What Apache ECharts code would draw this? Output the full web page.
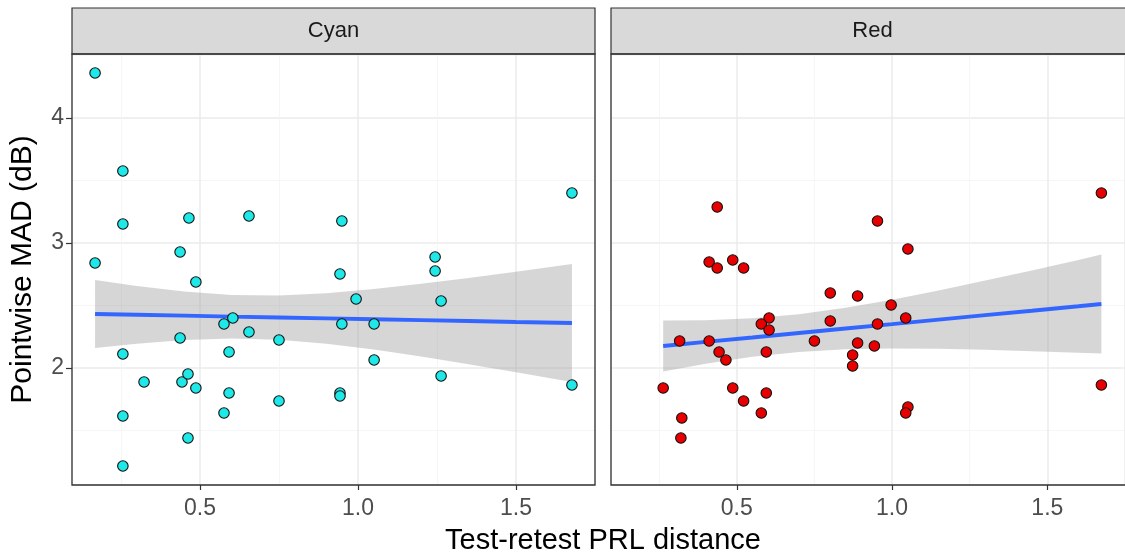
<!DOCTYPE html>
<html>
<head>
<meta charset="utf-8">
<script src="https://cdn.jsdelivr.net/npm/echarts@6/dist/echarts.min.js"></script>
<style>
html,body{margin:0;padding:0;background:#fff;}
#chart{width:1125px;height:559px;}
</style>
</head>
<body>
<div id="chart"></div>
<script>
// ---- data ----
const panels = ["Cyan", "Red"];
const cyanX = [0.168,0.256,0.168,0.256,0.465,0.655,0.949,0.437,0.487,0.943,0.994,0.604,0.576,0.655,0.437,0.75,0.949,1.051,0.256,0.592,1.051,0.323,0.443,0.462,0.487,0.592,0.75,0.943,0.943,0.256,0.576,0.462,0.256,1.244,1.244,1.263,1.263,1.677,1.677];
const cyanY = [4.36,3.576,2.84,3.152,3.2,3.216,3.176,2.928,2.688,2.752,2.552,2.4,2.352,2.288,2.24,2.224,2.352,2.352,2.112,2.128,2.064,1.888,1.888,1.952,1.84,1.8,1.736,1.8,1.776,1.616,1.64,1.44,1.216,2.888,2.776,2.536,1.936,1.864,3.4];
const redX = [0.437,0.411,0.437,0.487,0.522,0.604,0.579,0.604,0.316,0.411,0.443,0.465,0.595,0.263,0.487,0.595,0.522,0.579,0.323,0.32,0.953,1.051,0.801,0.889,0.997,0.801,0.953,1.044,0.75,0.889,0.943,0.873,0.873,1.674,1.674,1.051,1.044];
const redY = [3.288,2.848,2.8,2.864,2.8,2.4,2.352,2.304,2.216,2.216,2.128,2.064,2.128,1.84,1.84,1.8,1.736,1.64,1.6,1.44,3.176,2.952,2.6,2.576,2.504,2.376,2.352,2.4,2.216,2.2,2.176,2.104,2.016,1.864,3.4,1.688,1.64];

// fitted line and confidence band
const cyanFitX = [0.168,0.3,0.45,0.6,0.75,0.9,1.05,1.2,1.35,1.5,1.677];
const cyanFitY = [2.432,2.426,2.419,2.411,2.404,2.397,2.390,2.383,2.376,2.368,2.360];
const cyanUpper = [2.704,2.657,2.613,2.585,2.581,2.599,2.632,2.674,2.721,2.770,2.832];
const cyanLower = [2.160,2.195,2.225,2.237,2.227,2.195,2.149,2.092,2.031,1.966,1.888];

const redFitX = [0.263,0.4,0.55,0.7,0.85,1.0,1.15,1.3,1.45,1.6,1.674];
const redFitY = [2.176,2.209,2.244,2.280,2.316,2.351,2.387,2.423,2.458,2.494,2.512];
const redUpper = [2.380,2.383,2.398,2.431,2.482,2.546,2.620,2.700,2.781,2.865,2.908];
const redLower = [1.972,2.035,2.090,2.129,2.150,2.156,2.154,2.146,2.135,2.123,2.116];

const xTickLabels = ["0.5", "1.0", "1.5"];
const yTickLabels = ["2", "3", "4"];
const xTitle = "Test-retest PRL distance";
const yTitle = "Pointwise MAD (dB)";

// ---- chart ----
const FONT = "Liberation Sans, Arial, sans-serif";
const zip = (a, b) => a.map((v, i) => [v, b[i]]);

const panelDefs = [
  {x: cyanX, y: cyanY, fx: cyanFitX, fy: cyanFitY, up: cyanUpper, lo: cyanLower, fill: "#1EE8E8"},
  {x: redX, y: redY, fx: redFitX, fy: redFitY, up: redUpper, lo: redLower, fill: "#E80000"}
];

const gridTop = 54, gridH = 431, gridW = 523;
const gridLefts = [72, 611];

const grids = gridLefts.map(l => ({
  left: l, top: gridTop, width: gridW, height: gridH,
  show: true, borderColor: "#333333", borderWidth: 0, backgroundColor: "#fff"
}));

const xAxes = gridLefts.map((l, i) => ({
  type: "value", gridIndex: i, min: 0.095, max: 1.75, splitNumber: 3,
  axisLine: {show: false},
  axisTick: {show: true, length: 5, lineStyle: {color: "#333333", width: 1.2}},
  axisLabel: {
    show: true, color: "#4D4D4D", fontSize: 23, fontFamily: FONT, margin: 12,
    showMinLabel: false, showMaxLabel: false,
    formatter: v => { const s = v.toFixed(1); return xTickLabels.indexOf(s) >= 0 && Math.abs(v*2 - Math.round(v*2)) < 1e-6 ? s : ""; }
  },
  splitLine: {show: true, lineStyle: {color: "#EBEBEB", width: 1.5}},
  minorTick: {show: false, splitNumber: 2},
  minorSplitLine: {show: true, lineStyle: {color: "#F4F4F4", width: 0.8}}
}));

const yAxes = gridLefts.map((l, i) => ({
  type: "value", gridIndex: i, min: 1.064, max: 4.512, splitNumber: 3,
  axisLine: {show: false},
  axisTick: {show: i === 0, length: 6, lineStyle: {color: "#333333", width: 1.2}},
  axisLabel: {
    show: i === 0, color: "#4D4D4D", fontSize: 23, fontFamily: FONT, margin: 8,
    showMinLabel: false, showMaxLabel: false,
    formatter: v => { const s = String(Math.round(v)); return Math.abs(v - Math.round(v)) < 1e-6 && yTickLabels.indexOf(s) >= 0 ? s : ""; }
  },
  splitLine: {show: true, lineStyle: {color: "#EBEBEB", width: 1.5}},
  minorTick: {show: false, splitNumber: 2},
  minorSplitLine: {show: true, lineStyle: {color: "#F4F4F4", width: 0.8}},
  name: i === 0 ? yTitle : "",
  nameLocation: "middle", nameRotate: 90, nameGap: 34,
  nameTextStyle: {color: "#000", fontSize: 30, fontFamily: FONT}
}));

const series = [];
panelDefs.forEach((p, i) => {
  series.push({
    type: "custom", xAxisIndex: i, yAxisIndex: i, silent: true, z: 1,
    data: [[p.fx[0], p.up[0]]],
    renderItem: (params, api) => {
      const pts = [];
      p.fx.forEach((x, k) => pts.push(api.coord([x, p.up[k]])));
      for (let k = p.fx.length - 1; k >= 0; k--) pts.push(api.coord([p.fx[k], p.lo[k]]));
      return {type: "polygon", shape: {points: pts}, style: {fill: "rgba(153,153,153,0.4)", stroke: null}};
    }
  });
  series.push({
    type: "line", xAxisIndex: i, yAxisIndex: i, z: 2, silent: true,
    data: zip(p.fx, p.fy), showSymbol: false, symbol: "none",
    lineStyle: {color: "#3366FF", width: 3.8}
  });
  series.push({
    type: "scatter", xAxisIndex: i, yAxisIndex: i, z: 3, silent: true,
    data: zip(p.x, p.y), symbol: "circle", symbolSize: 10.5,
    itemStyle: {color: p.fill, borderColor: "#111", borderWidth: 1.1, opacity: 1}
  });
});

const graphics = [];
gridLefts.forEach((l, i) => {
  // panel border on top of the grid lines
  graphics.push({
    type: "rect", z: 20, silent: true,
    shape: {x: l, y: gridTop, width: gridW, height: gridH},
    style: {fill: null, stroke: "#333333", lineWidth: 1.3}
  });
  graphics.push({
    type: "rect", z: 10, silent: true,
    shape: {x: l, y: 8, width: gridW, height: gridTop - 8},
    style: {fill: "#D9D9D9", stroke: "#333333", lineWidth: 1.2}
  });
  graphics.push({
    type: "text", z: 11,
    x: l + gridW / 2, y: 8 + (gridTop - 8) / 2,
    style: {text: panels[i], fill: "#1A1A1A", fontSize: 22, fontFamily: FONT, align: "center", verticalAlign: "middle"}
  });
});
graphics.push({
  type: "text", z: 11, x: 603, y: 541,
  style: {text: xTitle, fill: "#000", fontSize: 29, fontFamily: FONT, align: "center", verticalAlign: "middle"}
});

const chart = echarts.init(document.getElementById("chart"), null, {renderer: "canvas"});
chart.setOption({
  animation: false,
  backgroundColor: "#fff",
  grid: grids,
  xAxis: xAxes,
  yAxis: yAxes,
  series: series,
  graphic: graphics
});
</script>
</body>
</html>
